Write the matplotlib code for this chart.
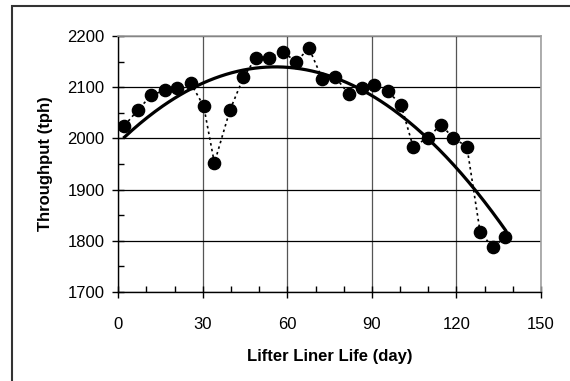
import matplotlib
matplotlib.use("Agg")
import matplotlib.pyplot as plt
from matplotlib.patches import Rectangle
from matplotlib.ticker import MultipleLocator
import numpy as np

plt.rcParams["font.family"] = ["Liberation Sans", "DejaVu Sans"]

# Mill throughput vs. lifter liner age
days = [2.2, 7.0, 11.7, 16.4, 21.0, 25.7, 30.3, 34.1, 39.6, 44.4,
        48.9, 53.5, 58.3, 63.1, 67.7, 72.4, 77.0, 81.7, 86.5, 90.7,
        95.6, 100.3, 104.6, 109.8, 114.5, 118.8, 123.7, 128.4, 132.9, 137.4]
throughput = [2025, 2056, 2084, 2094, 2099, 2108, 2063, 1952, 2055, 2119,
              2158, 2158, 2169, 2150, 2176, 2116, 2120, 2087, 2098, 2105,
              2092, 2066, 1984, 2001, 2027, 2001, 1984, 1817, 1787, 1808]

x_ticks = [0, 30, 60, 90, 120, 150]
y_ticks = [1700, 1800, 1900, 2000, 2100, 2200]

W, H = 570, 381
fig = plt.figure(figsize=(W / 100, H / 100), dpi=100)
ax = fig.add_axes([118.3 / W, 1 - 292 / H, (541 - 118.3) / W, (292 - 36) / H])

# outer frame (open at right/bottom edges of the image)
fig.add_artist(Rectangle((12.3 / W, -0.2), 1.2, 1.2 - 5.7 / H + 0.0,
                         transform=fig.transFigure, fill=False,
                         edgecolor="#333333", linewidth=1.5))

# quadratic trend line fitted to the measurements
coef = np.polyfit(days, throughput, 2)
xs = np.linspace(days[0], days[-1], 200)
ax.plot(xs, np.polyval(coef, xs), color="black", linewidth=2.3, zorder=3)

ax.plot(days, throughput, linestyle=(0, (1.5, 2)), color="black", linewidth=1.2,
        marker="o", markersize=8.8, markerfacecolor="black",
        markeredgecolor="black", zorder=4)

ax.set_xlim(0, 150)
ax.set_ylim(1700, 2200)
ax.set_xticks(x_ticks)
ax.set_yticks(y_ticks)
ax.xaxis.set_minor_locator(MultipleLocator(10))
ax.yaxis.set_minor_locator(MultipleLocator(50))

ax.grid(axis="y", which="major", color="black", linewidth=0.9)
ax.grid(axis="x", which="major", color="#555555", linewidth=0.9)
ax.set_axisbelow(True)

for s in ["top", "right"]:
    ax.spines[s].set_color("#a0a0a0")
    ax.spines[s].set_linewidth(1.2)
for s in ["left", "bottom"]:
    ax.spines[s].set_color("black")
    ax.spines[s].set_linewidth(1.0)

ax.tick_params(which="major", direction="inout", length=8, width=1.0, labelsize=12)
ax.tick_params(which="minor", direction="in", length=4, width=1.0)
ax.tick_params(axis="x", which="major", pad=14)
ax.tick_params(axis="y", which="major", pad=6)

ax.set_xlabel("Lifter Liner Life (day)", fontsize=12, fontweight="bold", labelpad=12)
ax.set_ylabel("Throughput (tph)", fontsize=12, fontweight="bold", labelpad=10)

fig.savefig("out.png", dpi=100)
